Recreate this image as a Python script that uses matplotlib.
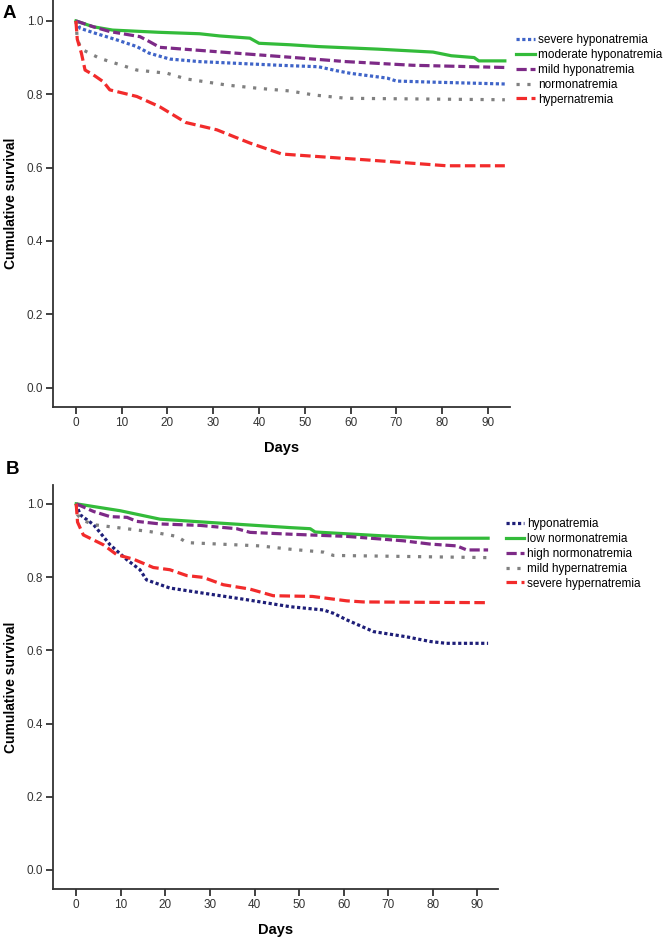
import numpy as np
import matplotlib
matplotlib.use("Agg")
import matplotlib.pyplot as plt
from matplotlib.lines import Line2D

plt.rcParams['font.family'] = ['Liberation Sans', 'DejaVu Sans']

# ---- Panel A data (days, cumulative survival) ----
a_labels = ['severe hyponatremia', 'moderate hyponatremia', 'mild hyponatremia',
            'normonatremia', 'hypernatremia']

a_severe_x = [0, 0.9, 3.8, 9, 13.3, 16, 20.5, 27, 44.5, 53, 57, 60, 68, 70, 78, 93.7]
a_severe_y = [1.0, 0.98, 0.968, 0.948, 0.93, 0.912, 0.896, 0.889, 0.879, 0.875, 0.864,
              0.857, 0.844, 0.836, 0.833, 0.828]

a_moderate_x = [0, 3.8, 8, 18, 27, 31.4, 38, 40, 46.7, 53, 66, 78, 82, 87, 88, 93.7]
a_moderate_y = [1.0, 0.984, 0.975, 0.969, 0.965, 0.959, 0.953, 0.939, 0.935, 0.93, 0.923,
                0.915, 0.905, 0.9, 0.891, 0.891]

a_mild_x = [0, 3.8, 7.4, 14, 16, 18.3, 25.6, 35, 46.7, 59, 73.6, 93.7]
a_mild_y = [1.0, 0.984, 0.971, 0.957, 0.944, 0.928, 0.921, 0.912, 0.901, 0.889, 0.879, 0.873]

a_normo_x = [0, 0.3, 1.2, 5.2, 13.3, 20, 24, 33, 40, 46.7, 52, 59, 93.7]
a_normo_y = [1.0, 0.95, 0.923, 0.898, 0.866, 0.857, 0.842, 0.825, 0.816, 0.809, 0.798,
             0.789, 0.785]

a_hyper_x = [0, 0.3, 1.2, 2, 3.8, 6, 7.4, 13.3, 18.3, 24, 30.8, 38, 45, 57.6, 63.5, 81, 93.7]
a_hyper_y = [1.0, 0.95, 0.912, 0.866, 0.853, 0.834, 0.812, 0.794, 0.766, 0.723, 0.703,
             0.667, 0.637, 0.626, 0.621, 0.605, 0.605]

# ---- Panel B data ----
b_labels = ['hyponatremia', 'low normonatremia', 'high normonatremia',
            'mild hypernatremia', 'severe hypernatremia']

b_hypo_x = [0, 0.9, 3.9, 7.6, 11.4, 14.3, 15.8, 21, 28.5, 38.3, 48, 55.5, 57.7, 60.7,
            66.7, 74, 79.4, 83, 92.4]
b_hypo_y = [1.0, 0.97, 0.943, 0.888, 0.847, 0.82, 0.792, 0.77, 0.756, 0.738, 0.719,
            0.71, 0.701, 0.683, 0.651, 0.637, 0.624, 0.619, 0.619]

b_low_x = [0, 9.9, 18.8, 30, 48, 52.5, 53.6, 68, 79.4, 92.4]
b_low_y = [1.0, 0.981, 0.958, 0.949, 0.935, 0.932, 0.923, 0.913, 0.906, 0.906]

b_high_x = [0, 3.9, 7.6, 11.4, 13.6, 18.8, 27.8, 36, 39, 48, 60.7, 73.4, 79.4, 85.4,
            87.6, 92.4]
b_high_y = [1.0, 0.979, 0.965, 0.963, 0.952, 0.945, 0.941, 0.932, 0.922, 0.917, 0.911,
            0.899, 0.89, 0.885, 0.874, 0.874]

b_mild_x = [0, 0.3, 1.3, 3.9, 16.6, 22.6, 24.8, 41.3, 48, 55.5, 57.7, 92.4]
b_mild_y = [1.0, 0.97, 0.956, 0.943, 0.924, 0.911, 0.894, 0.885, 0.876, 0.868, 0.859, 0.853]

b_severe_x = [0, 0.3, 1.6, 6.1, 9.1, 12.8, 17.3, 21, 24.8, 28.5, 33, 39, 44.2, 53, 60.7,
              64.4, 92.4]
b_severe_y = [1.0, 0.95, 0.915, 0.888, 0.861, 0.849, 0.826, 0.82, 0.804, 0.799, 0.779,
              0.767, 0.749, 0.747, 0.735, 0.732, 0.73]

yticks = [0.0, 0.2, 0.4, 0.6, 0.8, 1.0]
xticks = [0, 10, 20, 30, 40, 50, 60, 70, 80, 90]

blue = '#3F64C8'
green = '#33BB3A'
purple = '#7D2A87'
gray = '#808080'
red = '#F22B2B'
navy = '#1E1E78'

dot = (0, (1, 0.8))
sparse = (0, (1, 2.4))
dashdot = (0, (3.2, 1.2, 2.2, 1.2))
dash = (0, (3.3, 1.4))

fig = plt.figure(figsize=(6.66, 9.38), dpi=100)


def style_axes(ax, xlim, ylim):
    ax.set_xlim(*xlim)
    ax.set_ylim(*ylim)
    ax.set_xticks(xticks)
    ax.set_yticks(yticks)
    ax.set_yticklabels(['%.1f' % v for v in yticks])
    for s in ['top', 'right']:
        ax.spines[s].set_visible(False)
    for s in ['left', 'bottom']:
        ax.spines[s].set_linewidth(1.3)
        ax.spines[s].set_color('#333333')
    ax.tick_params(direction='out', length=5, width=1.3, color='#333333',
                   labelsize=8.5, labelcolor='#333333', pad=2)
    ax.set_xlabel('Days', fontsize=10.5, fontweight='bold', labelpad=9)
    ax.set_ylabel('Cumulative survival', fontsize=10, fontweight='bold', labelpad=6)


# Panel A
axA = fig.add_axes([0.0796, 0.566, 0.686, 0.434])
lw = 2.3
sA = [
    (a_severe_x, a_severe_y, blue, dot),
    (a_moderate_x, a_moderate_y, green, '-'),
    (a_mild_x, a_mild_y, purple, dashdot),
    (a_normo_x, a_normo_y, gray, sparse),
    (a_hyper_x, a_hyper_y, red, dash),
]
handlesA = []
for (x, y, c, ls), lab in zip(sA, a_labels):
    axA.plot(x, y, color=c, ls=ls, lw=lw)
    handlesA.append(Line2D([], [], color=c, ls=ls, lw=lw, label=lab))
style_axes(axA, (-5.0, 94.8), (-0.053, 1.057))
fig.legend(handles=handlesA, loc='upper left', bbox_to_anchor=(0.768, 0.969),
           frameon=False, fontsize=8.5, handlelength=1.6, handletextpad=0.25,
           labelspacing=0.25, borderaxespad=0)
fig.text(0.004, 0.986, 'A', fontsize=13.5, fontweight='bold', va='center', ha='left')

# Panel B
axB = fig.add_axes([0.0796, 0.0522, 0.668, 0.431])
sB = [
    (b_hypo_x, b_hypo_y, navy, dot),
    (b_low_x, b_low_y, green, '-'),
    (b_high_x, b_high_y, purple, dashdot),
    (b_mild_x, b_mild_y, gray, sparse),
    (b_severe_x, b_severe_y, red, dash),
]
handlesB = []
for (x, y, c, ls), lab in zip(sB, b_labels):
    axB.plot(x, y, color=c, ls=ls, lw=lw)
    handlesB.append(Line2D([], [], color=c, ls=ls, lw=lw, label=lab))
style_axes(axB, (-5.2, 94.6), (-0.052, 1.052))
fig.legend(handles=handlesB, loc='upper left', bbox_to_anchor=(0.752, 0.453),
           frameon=False, fontsize=8.5, handlelength=1.6, handletextpad=0.25,
           labelspacing=0.25, borderaxespad=0)
fig.text(0.009, 0.499, 'B', fontsize=13.5, fontweight='bold', va='center', ha='left')

fig.savefig('out.png', dpi=100)
